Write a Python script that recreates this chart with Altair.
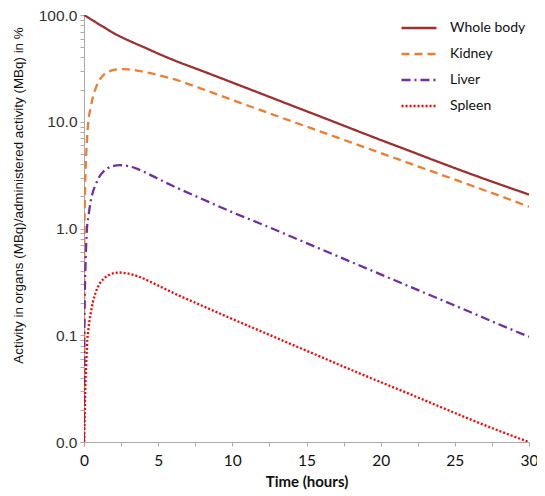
import altair as alt
import pandas as pd

# Time grid (hours)
time_h = [0, 0.02, 0.05, 0.1, 0.15, 0.2, 0.3, 0.45, 0.6, 0.8, 1, 1.3, 1.65, 2, 2.4, 3, 3.5, 4,
          5, 6, 8, 10, 12, 14, 16, 18, 20, 22, 24, 26, 28, 30]

whole_body = [100, 99.6, 99, 98.1, 97.1, 96.2, 94.3, 91.5, 88.8, 85.4, 82, 77.5, 72.3, 67.5, 63.3,
              57.8, 53.8, 50.2, 43.5, 38, 29.8, 23.3, 18.2, 14.2, 11.1, 8.65, 6.75, 5.3, 4.15,
              3.27, 2.6, 2.08]
kidney = [0.01, 0.6, 1.6, 3.4, 5.0, 6.8, 10.3, 13.6, 17.0, 20.8, 24.0, 27.3, 29.4, 30.6, 31.1,
          30.9, 30.3, 29.4, 27.4, 25.2, 20.2, 16.0, 12.7, 10.1, 8.05, 6.4, 5.1, 4.05, 3.22,
          2.56, 2.03, 1.6]
liver = [0.01, 0.08, 0.22, 0.45, 0.72, 1.0, 1.3, 1.8, 2.2, 2.6, 3.0, 3.4, 3.7, 3.86, 3.92,
         3.84, 3.66, 3.42, 2.92, 2.5, 1.88, 1.42, 1.095, 0.836, 0.638, 0.487, 0.372, 0.284,
         0.217, 0.166, 0.126, 0.097]
spleen = [0.01, 0.013, 0.02, 0.037, 0.055, 0.08, 0.115, 0.16, 0.205, 0.255, 0.295, 0.335,
          0.365, 0.381, 0.387, 0.378, 0.362, 0.34, 0.292, 0.25, 0.188, 0.142, 0.108, 0.082,
          0.0625, 0.0475, 0.0364, 0.028, 0.0214, 0.0164, 0.0127, 0.01]

series_names = ["Whole body", "Kidney", "Liver", "Spleen"]
series_colors = ["#9B3131", "#ED7D31", "#7030A0", "#FF0000"]
series_dashes = [[1, 0], [8, 5], [9, 4, 2, 4], [2, 2]]

y_major = [0.01, 0.1, 1, 10, 100]
y_ticks = sorted(set([round(d * k, 4) for d in [0.01, 0.1, 1, 10] for k in range(1, 10)] + [100]))
x_ticks = [0, 2.5, 5, 7.5, 10, 12.5, 15, 17.5, 20, 22.5, 25, 27.5, 30]

rows = []
for name, vals in zip(series_names, [whole_body, kidney, liver, spleen]):
    for t, v in zip(time_h, vals):
        rows.append({"series": name, "time": t, "value": v})
df = pd.DataFrame(rows)
df["order"] = df["series"].map({n: i for i, n in enumerate(series_names)})

label_expr = " || ".join([f"datum.value == {v}" for v in y_major])

chart = alt.Chart(df).mark_line(interpolate="monotone", clip=True, strokeWidth=2.3).encode(
    x=alt.X("time:Q",
            scale=alt.Scale(domain=[0, 30], nice=False),
            axis=alt.Axis(values=x_ticks, labelFlush=False,
                          labelExpr="datum.value % 5 == 0 ? datum.label : ''",
                          title="Time (hours)", titleFont="Lato", titleFontSize=15,
                          titleFontWeight="bold", titleColor="#111", titlePadding=6,
                          labelFont="Lato", labelFontSize=15.5, labelColor="#111",
                          labelPadding=7, tickSize=4, tickColor="#aaa",
                          domainColor="#aaa", grid=False)),
    y=alt.Y("value:Q",
            scale=alt.Scale(type="log", domain=[0.01, 100], nice=False),
            axis=alt.Axis(values=y_ticks, format=".1f", labelFlush=False,
                          labelExpr=f"({label_expr}) ? format(datum.value, '.1f') : ''",
                          title="Activity in organs (MBq)/administered activity (MBq) in %",
                          titleFont="Liberation Sans", titleFontSize=13.4,
                          titleFontWeight="normal", titleColor="#111",
                          titleX=-66, titleY=180, titleAngle=-90, titleAlign="center",
                          titleBaseline="middle",
                          labelFont="Liberation Sans", labelFontSize=15.5, labelColor="#333",
                          labelPadding=3, tickSize=4, tickColor="#aaa",
                          domainColor="#aaa", grid=False)),
    color=alt.Color("series:N",
                    scale=alt.Scale(domain=series_names, range=series_colors),
                    legend=alt.Legend(title=None, orient="none", legendX=316, legendY=-6,
                                      symbolType="stroke", symbolSize=1225,
                                      symbolStrokeWidth=2.5, labelFont="Lato",
                                      labelFontSize=14, labelColor="#111",
                                      labelOffset=12, rowPadding=0)),
    strokeDash=alt.StrokeDash("series:N",
                              scale=alt.Scale(domain=series_names, range=series_dashes),
                              legend=None),
    order=alt.Order("order:Q", sort="descending"),
    detail="series:N",
).properties(
    width=445, height=427,
    autosize=alt.AutoSizeParams(type="none"),
    padding={"left": 76, "top": 7, "right": 8, "bottom": 53},
).configure_view(stroke=None)

chart.save("out.html", embed_options={"renderer": "svg", "actions": False})
